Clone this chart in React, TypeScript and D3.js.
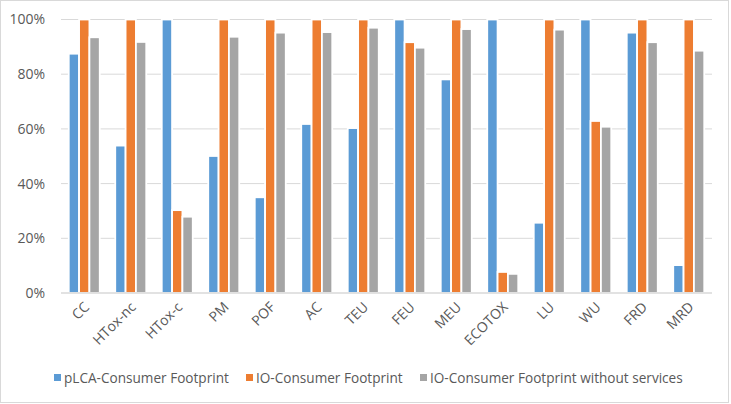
import * as React from 'react';
import * as d3 from 'd3';

const categories = ['CC', 'HTox-nc', 'HTox-c', 'PM', 'POF', 'AC', 'TEU', 'FEU', 'MEU', 'ECOTOX', 'LU', 'WU', 'FRD', 'MRD'];
const pLCA = [0.875, 0.539, 1.0, 0.501, 0.35, 0.618, 0.603, 1.0, 0.781, 1.0, 0.257, 1.0, 0.952, 0.102];
const ioFootprint = [1.0, 1.0, 0.303, 1.0, 1.0, 1.0, 1.0, 0.917, 1.0, 0.077, 1.0, 0.629, 1.0, 1.0];
const ioNoServices = [0.935, 0.918, 0.279, 0.937, 0.952, 0.954, 0.97, 0.897, 0.965, 0.07, 0.963, 0.608, 0.917, 0.886];
const seriesNames = ['pLCA-Consumer Footprint', 'IO-Consumer Footprint', 'IO-Consumer Footprint without services'];
const yTicks = [0, 0.2, 0.4, 0.6, 0.8, 1.0];

const colors = ['#5B9BD5', '#ED7D31', '#A5A5A5'];

const App = () => {
  const ref = React.useRef<SVGSVGElement>(null);

  React.useEffect(() => {
    const width = 731;
    const height = 404;
    const margin = {top: 19.5, right: 19, bottom: 111, left: 61};
    const font = '"Open Sans", "Liberation Sans", sans-serif';

    const svg = d3.select(ref.current);
    svg.selectAll('*').remove();

    svg.append('rect')
      .attr('x', 0.5).attr('y', 0.5)
      .attr('width', width - 3).attr('height', height - 2)
      .attr('fill', '#fff')
      .attr('stroke', '#D9D9D9');

    const x = d3.scaleBand<string>().domain(categories)
      .range([margin.left, width - margin.right]);
    const inner = d3.scaleBand<number>().domain([0, 1, 2])
      .range([0, x.bandwidth()]).paddingInner(0).paddingOuter(0.75);
    const y = d3.scaleLinear().domain([0, 1]).range([height - margin.bottom, margin.top]);

    // gridlines
    svg.append('g').selectAll('line').data(yTicks.slice(1)).enter().append('line')
      .attr('x1', margin.left).attr('x2', width - margin.right)
      .attr('y1', d => y(d)).attr('y2', d => y(d))
      .attr('stroke', '#D9D9D9').attr('stroke-width', 1);

    // y labels
    svg.append('g').selectAll('text').data(yTicks).enter().append('text')
      .attr('x', 45).attr('y', d => y(d))
      .attr('dy', '0.35em')
      .attr('text-anchor', 'end')
      .style('font', `14px ${font}`)
      .attr('fill', '#595959')
      .text(d => d3.format('.0%')(d));

    const series = [pLCA, ioFootprint, ioNoServices];
    series.forEach((vals, s) => {
      svg.append('g').selectAll('rect').data(vals).enter().append('rect')
        .attr('x', (d, i) => (x(categories[i]) as number) + (inner(s) as number))
        .attr('y', d => y(d))
        .attr('width', inner.bandwidth())
        .attr('height', d => y(0) - y(d))
        .attr('fill', colors[s])
        .attr('stroke', '#fff')
        .attr('stroke-width', 1.8);
    });

    // baseline
    svg.append('line')
      .attr('x1', margin.left).attr('x2', width - margin.right)
      .attr('y1', y(0)).attr('y2', y(0))
      .attr('stroke', '#D9D9D9').attr('stroke-width', 1.5);

    // x labels
    svg.append('g').selectAll('text').data(categories).enter().append('text')
      .attr('transform', d => `translate(${(x(d) as number) + x.bandwidth() / 2 - 1},${y(0) + 8}) rotate(-45)`)
      .attr('text-anchor', 'end')
      .attr('dy', '0.7em')
      .style('font', `14px ${font}`)
      .attr('fill', '#595959')
      .text(d => d);

    // legend
    const legendX = [54, 246, 420];
    const legend = svg.append('g').selectAll('g').data(seriesNames).enter().append('g')
      .attr('transform', (d, i) => `translate(${legendX[i]},378)`);
    legend.append('rect')
      .attr('x', 0).attr('y', -4).attr('width', 7).attr('height', 7)
      .attr('fill', (d, i) => colors[i]);
    legend.append('text')
      .attr('x', 10).attr('dy', '0.35em')
      .style('font', `13.6px ${font}`)
      .attr('fill', '#595959')
      .text(d => d);
  }, []);

  return (
    <svg ref={ref} width={731} height={404} style={{position: 'absolute', left: 0, top: 0}}></svg>
  );
};

export default App;
